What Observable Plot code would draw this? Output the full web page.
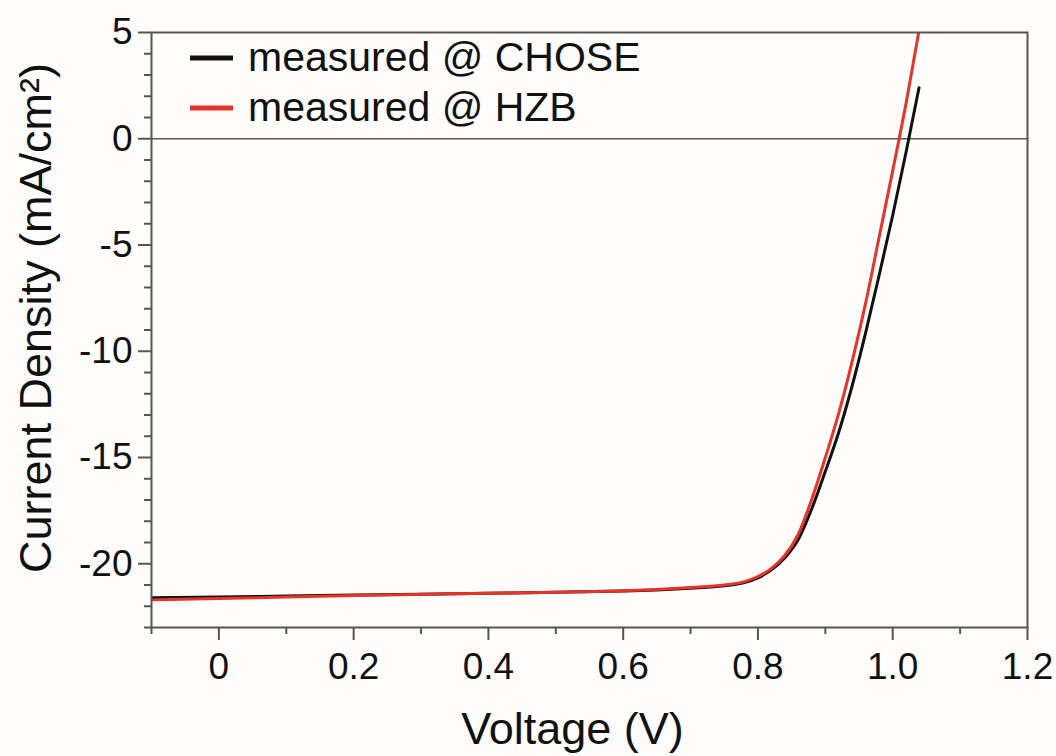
<!DOCTYPE html>
<html>
<head>
<meta charset="utf-8">
<script src="https://cdn.jsdelivr.net/npm/d3@7"></script>
<script src="https://cdn.jsdelivr.net/npm/@observablehq/plot@0.6"></script>
<style>
  html, body { margin: 0; padding: 0; background: #fffdfc; }
  #chart { width: 1056px; height: 756px; }
</style>
</head>
<body>
<div id="chart"></div>
<script>
// Voltage (V) and current density (mA/cm²)
const vChose = [-0.1, 0, 0.1, 0.2, 0.3, 0.4, 0.5, 0.6, 0.65, 0.7, 0.75, 0.78, 0.8, 0.82, 0.84, 0.86, 0.88, 0.9, 0.92, 0.94, 0.96, 0.98, 1.0, 1.02, 1.039];
const jChose = [-21.6, -21.57, -21.52, -21.47, -21.43, -21.39, -21.34, -21.28, -21.23, -21.15, -21.04, -20.88, -20.66, -20.29, -19.72, -18.85, -17.4, -15.65, -13.8, -11.6, -9.1, -6.4, -3.6, -0.6, 2.4];
const vHzb = [-0.1, 0, 0.1, 0.2, 0.3, 0.4, 0.5, 0.6, 0.65, 0.7, 0.75, 0.78, 0.8, 0.82, 0.84, 0.86, 0.88, 0.9, 0.92, 0.94, 0.96, 0.98, 1.0, 1.02, 1.0385];
const jHzb = [-21.7, -21.64, -21.56, -21.49, -21.44, -21.39, -21.34, -21.27, -21.21, -21.12, -21.0, -20.84, -20.6, -20.22, -19.6, -18.6, -16.95, -15.0, -12.9, -10.45, -7.7, -4.6, -1.5, 1.7, 5.0];

const seriesNames = ["measured @ CHOSE", "measured @ HZB"];
const seriesColors = ["#111111", "#e5342a"];

const xMajor = [0, 0.2, 0.4, 0.6, 0.8, 1.0, 1.2];
const xMinor = [-0.1, 0.1, 0.3, 0.5, 0.7, 0.9, 1.1];
const yMajor = [-20, -15, -10, -5, 0, 5];
const yMinor = [-23, -22, -21, -19, -18, -17, -16, -14, -13, -12, -11, -9, -8, -7, -6, -4, -3, -2, -1, 1, 2, 3, 4];

const xTitle = "Voltage (V)";
const yTitle = "Current Density (mA/cm²)";

const data = [
  ...vChose.map((v, i) => ({series: seriesNames[0], v, j: jChose[i]})),
  ...vHzb.map((v, i) => ({series: seriesNames[1], v, j: jHzb[i]}))
];

const axisColor = "#555555";
const font = "'Liberation Sans', Arial, Helvetica, sans-serif";

const chart = Plot.plot({
  width: 1056,
  height: 756,
  marginLeft: 151,
  marginRight: 29,
  marginTop: 32,
  marginBottom: 129,
  style: {fontFamily: font, background: "#fffdfc", color: "#111"},
  x: {domain: [-0.1, 1.2]},
  y: {domain: [-23, 5]},
  color: {domain: seriesNames, range: seriesColors},
  marks: [
    Plot.ruleY([0], {stroke: axisColor, strokeWidth: 1.6}),
    Plot.line(data, {x: "v", y: "j", z: "series", stroke: "series", strokeWidth: 3, curve: "monotone-x", clip: true}),
    Plot.frame({stroke: axisColor, strokeWidth: 2}),
    Plot.axisX({ticks: xMajor, tickSize: 13, tickPadding: 12, stroke: axisColor, strokeWidth: 2, fill: "#111", fontSize: 37,
      tickFormat: d => d === 0 ? "0" : d.toFixed(1), label: null}),
    Plot.axisX({ticks: xMinor, tickSize: 7, stroke: axisColor, strokeWidth: 2, text: null, label: null}),
    Plot.axisY({ticks: yMajor, tickSize: 13, tickPadding: 6, stroke: axisColor, strokeWidth: 2, fill: "#111", fontSize: 37,
      tickFormat: d => String(d), label: null}),
    Plot.axisY({ticks: yMinor, tickSize: 7, stroke: axisColor, strokeWidth: 2, text: null, label: null}),
    Plot.text([xTitle], {frameAnchor: "bottom", text: d => d, dx: -17, dy: 102, fontSize: 45, fill: "#111", textAnchor: "middle", lineAnchor: "middle"}),
    Plot.text([yTitle], {frameAnchor: "left", text: d => d, rotate: -90, dx: -115, dy: -12, fontSize: 45, fill: "#111", textAnchor: "middle", lineAnchor: "middle"})
  ]
});

// Legend (inside the plot, top-left)
const svg = d3.select(chart);
const lg = svg.append("g").attr("font-family", font).attr("font-size", 41).attr("fill", "#111").attr("text-anchor", "start");
seriesNames.forEach((name, i) => {
  const y = 58 + i * 50;
  lg.append("line").attr("x1", 190).attr("x2", 233).attr("y1", y).attr("y2", y)
    .attr("stroke", seriesColors[i]).attr("stroke-width", 5);
  lg.append("text").attr("x", 248).attr("y", y + 13).attr("text-anchor", "start").text(name);
});

document.getElementById("chart").appendChild(chart);
</script>
</body>
</html>
